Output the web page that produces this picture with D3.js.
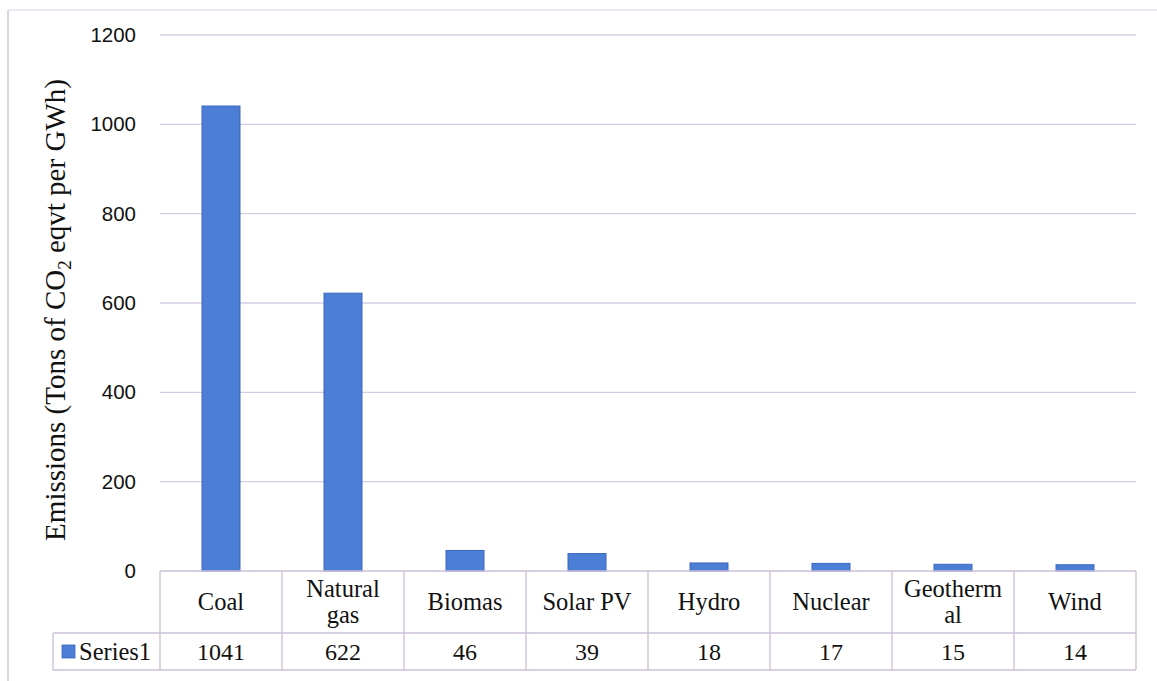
<!DOCTYPE html>
<html>
<head>
<meta charset="utf-8">
<script src="https://cdn.jsdelivr.net/npm/d3@7"></script>
<style>
  html, body { margin: 0; padding: 0; background: #ffffff; }
  svg { display: block; }
</style>
</head>
<body>
<svg id="chart" width="1157" height="681"></svg>
<script>
// Life-cycle emissions by generation source
const categories = ["Coal", "Natural gas", "Biomas", "Solar PV", "Hydro", "Nuclear", "Geothermal", "Wind"];
const categoryLines = [["Coal"], ["Natural", "gas"], ["Biomas"], ["Solar PV"], ["Hydro"], ["Nuclear"], ["Geotherm", "al"], ["Wind"]];
const series1 = [1041, 622, 46, 39, 18, 17, 15, 14];
const seriesName = "Series1";
const yTicks = [0, 200, 400, 600, 800, 1000, 1200];

const svg = d3.select("#chart");
const W = 1157, H = 681;
const plot = { left: 160, right: 1136, top: 35, bottom: 571 };
const catRowBottom = 633, valRowBottom = 670, legendLeft = 53;

const gridColor = "#d7cbe2";
const tableColor = "#cbbfd8";
const barColor = "#4d7ed6";
const barStroke = "#3a67c2";
const sans = "'Liberation Sans', Arial, sans-serif";
const serif = "'Liberation Serif', 'Times New Roman', serif";

// Outer frame (top and left edges)
svg.append("line").attr("x1", 8).attr("x2", W).attr("y1", 10).attr("y2", 10)
  .attr("stroke", "#ddd2e6").attr("stroke-width", 1.2);
svg.append("line").attr("x1", 8).attr("x2", 8).attr("y1", 10).attr("y2", H)
  .attr("stroke", "#d3c6df").attr("stroke-width", 1.5);

const x = d3.scaleBand().domain(categories).range([plot.left, plot.right]).paddingInner(0).paddingOuter(0);
const y = d3.scaleLinear().domain([0, 1200]).range([plot.bottom, plot.top]);

// Gridlines
svg.append("g").selectAll("line").data(yTicks.filter(t => t > 0)).join("line")
  .attr("x1", plot.left).attr("x2", plot.right)
  .attr("y1", d => y(d)).attr("y2", d => y(d))
  .attr("stroke", gridColor).attr("stroke-width", 1.3);

// Y axis tick labels
const yAxis = d3.axisLeft(y).tickValues(yTicks).tickFormat(d3.format("d")).tickSize(0).tickPadding(0);
const gy = svg.append("g").attr("transform", `translate(136,0)`).call(yAxis);
gy.select(".domain").remove();
gy.selectAll("text").attr("font-family", sans).attr("font-size", 20.5).attr("fill", "#111");

// Y axis title with subscript
const yt = svg.append("text")
  .attr("transform", `translate(65,${(80 + 540) / 2}) rotate(-90)`)
  .attr("text-anchor", "middle")
  .attr("font-family", serif).attr("font-size", 29).attr("fill", "#111");
yt.append("tspan").text("Emissions (Tons of CO");
yt.append("tspan").attr("font-size", 19).attr("dy", 6).text("2");
yt.append("tspan").attr("dy", -6).text(" eqvt per GWh)");

// Bars
const barW = 38;
svg.append("g").selectAll("rect").data(categories).join("rect")
  .attr("x", d => x(d) + x.bandwidth() / 2 - barW / 2)
  .attr("width", barW)
  .attr("y", (d, i) => y(series1[i]))
  .attr("height", (d, i) => y(0) - y(series1[i]))
  .attr("fill", barColor).attr("stroke", barStroke).attr("stroke-width", 1);

// Data table
const tbl = svg.append("g").attr("stroke", tableColor).attr("stroke-width", 1.3).attr("fill", "none");
tbl.append("line").attr("x1", plot.left).attr("x2", plot.right).attr("y1", plot.bottom).attr("y2", plot.bottom);
tbl.append("line").attr("x1", legendLeft).attr("x2", plot.right).attr("y1", catRowBottom).attr("y2", catRowBottom);
tbl.append("line").attr("x1", legendLeft).attr("x2", plot.right).attr("y1", valRowBottom).attr("y2", valRowBottom);
tbl.append("line").attr("x1", legendLeft).attr("x2", legendLeft).attr("y1", catRowBottom).attr("y2", valRowBottom);
const bounds = categories.map(c => x(c)).concat([plot.right]);
tbl.selectAll("line.v").data(bounds).join("line").attr("class", "v")
  .attr("x1", d => d).attr("x2", d => d).attr("y1", plot.bottom).attr("y2", valRowBottom);

// Category labels
const catG = svg.append("g").attr("font-family", serif).attr("font-size", 24.5).attr("fill", "#111").attr("text-anchor", "middle");
categories.forEach((c, i) => {
  const lines = categoryLines[i];
  const cx = x(c) + x.bandwidth() / 2;
  const mid = (plot.bottom + catRowBottom) / 2 + 8;
  const lh = 26;
  lines.forEach((ln, k) => {
    catG.append("text").attr("x", cx).attr("y", mid + (k - (lines.length - 1) / 2) * lh).text(ln);
  });
});

// Values row
svg.append("g").attr("font-family", serif).attr("font-size", 24).attr("fill", "#111").attr("text-anchor", "middle")
  .selectAll("text").data(categories).join("text")
  .attr("x", d => x(d) + x.bandwidth() / 2)
  .attr("y", (catRowBottom + valRowBottom) / 2 + 8)
  .text((d, i) => series1[i]);

// Legend key
svg.append("rect").attr("x", 62).attr("y", 645).attr("width", 13).attr("height", 13)
  .attr("fill", barColor).attr("stroke", barStroke).attr("stroke-width", 0.8);
svg.append("text").attr("x", 79).attr("y", (catRowBottom + valRowBottom) / 2 + 8)
  .attr("font-family", serif).attr("font-size", 24.5).attr("fill", "#111").text(seriesName);
</script>
</body>
</html>
